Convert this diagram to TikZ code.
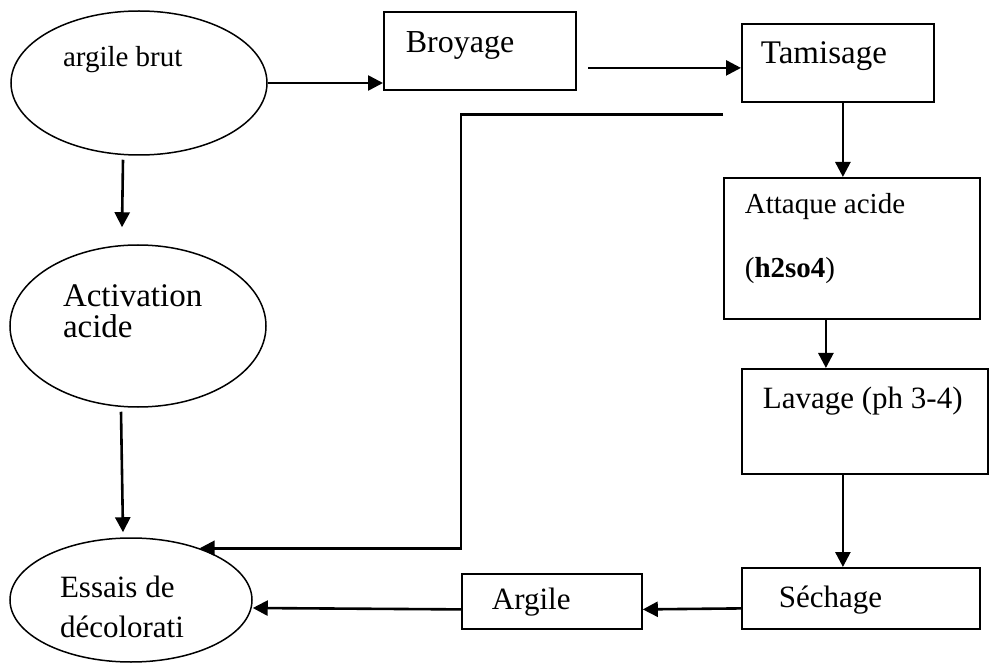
\documentclass[tikz,border=0pt]{standalone}
\usepackage{fontspec}
\setmainfont{Liberation Serif}
\usetikzlibrary{shapes.geometric,arrows.meta,calc}
\newcommand\espacenormal{\spaceskip=0pt\relax}

\begin{document}
\begin{tikzpicture}[x=1pt,y=-1pt,
    every node/.style={execute at begin node=\espacenormal},
    etape/.style={ellipse, draw, line width=1.5pt, inner sep=0pt, align=left},
    stepbox/.style={rectangle, draw, line width=1.8pt, anchor=north west, inner ysep=0pt, align=left},
    fleche/.style={line width=2.6pt, -{Triangle[length=15pt,width=15pt]}}]
            % Cadre de la page
            \useasboundingbox (0,0) rectangle (989,671);

            % Ellipses (colonne de gauche)
            \node[etape, minimum width=256pt, minimum height=144pt, text width=152pt, text height=10pt, text depth=42pt,
                  font=\fontsize{29}{34}\selectfont] (brut) at (139,83) {argile brut};
            \node[etape, minimum width=256pt, minimum height=162pt, text width=150pt, text height=20pt, text depth=58pt,
                  font=\fontsize{33}{31}\selectfont] (activation) at (138,326) {Activation\\acide};
            \node[etape, minimum width=242pt, minimum height=124pt, text width=142pt, text height=20pt, text depth=26pt,
                  font=\fontsize{31}{40}\selectfont] (essais) at (131,600) {Essais de\\décolorati};

            % Rectangles (etapes du traitement)
            \node[stepbox, text width=148pt, inner xsep=22pt, text height=41pt, text depth=37pt,
                  font=\fontsize{32}{38}\selectfont] (broyage) at (383,11) {Broyage};
            \node[stepbox, text width=154pt, inner xsep=19pt, text height=40pt, text depth=38pt,
                  font=\fontsize{33}{40}\selectfont] (tamisage) at (741,23) {Tamisage};
            \node[stepbox, text width=214pt, inner xsep=21pt, text height=36pt, text depth=105pt,
                  font=\fontsize{29}{64}\selectfont] (attaque) at (723,177) {Attaque acide\\(\textbf{h2so4})};
            \node[stepbox, text width=204pt, inner xsep=21pt, text height=40pt, text depth=65pt,
                  font=\fontsize{31}{36}\selectfont] (lavage) at (741,368) {Lavage (ph 3-4)};
            \node[stepbox, text width=164pt, inner xsep=37pt, text height=40pt, text depth=21pt,
                  font=\fontsize{31}{37}\selectfont] (sechage) at (741,567) {Séchage};
            \node[stepbox, text width=120pt, inner xsep=30pt, text height=36pt, text depth=19pt,
                  font=\fontsize{31}{37}\selectfont] (argile) at (461,573) {Argile};

            % Fleches du haut
            \draw[fleche] (brut.east) -- (brut.east -| broyage.west);
            \draw[fleche] ($(tamisage.west)+(-153,5)$) -- ($(tamisage.west)+(0,5)$);

            % Retour vers les essais
            \coordinate (retour) at ($(tamisage.south west)+(-18,12)$);
            \draw[fleche, line join=miter] (retour) -| (argile.north west |- essais.37) -- (essais.37);

            % Colonne de gauche
            \draw[fleche] ([xshift=-16pt,yshift=-4pt]brut.south) -- ([xshift=-16pt,yshift=17pt]activation.north);
            \draw[fleche] ([xshift=-17pt,yshift=-4pt]activation.south) -- ([xshift=-8pt,yshift=5pt]essais.north);

            % Colonne de droite
            \draw[fleche] ($(tamisage.south)+(5,0)$) -- ($(attaque.north)+(-9,0)$);
            \draw[fleche] ($(attaque.south)+(-26,0)$) -- ($(lavage.north)+(-39,0)$);
            \draw[fleche] ($(lavage.south)+(-22,0)$) -- ($(sechage.north)+(-18,0)$);

            % Ligne du bas
            \draw[fleche] ($(sechage.west)+(0,10)$) -- ($(argile.east)+(0,8)$);
            \draw[fleche] ($(argile.west)+(0,8)$) -- ($(essais.east)+(0,8)$);
\end{tikzpicture}
\end{document}
